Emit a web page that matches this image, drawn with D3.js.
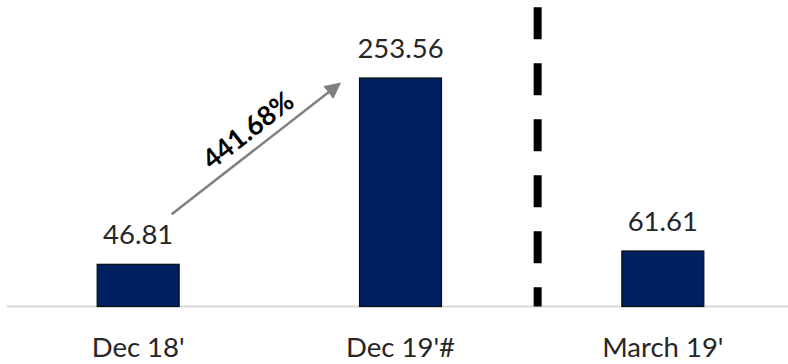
<!DOCTYPE html>
<html>
<head>
<meta charset="utf-8">
<script src="https://cdn.jsdelivr.net/npm/d3@7/dist/d3.min.js"></script>
<style>
  html, body { margin: 0; padding: 0; background: #ffffff; }
  svg { display: block; }
  text { font-family: Lato, "Open Sans", sans-serif; }
</style>
</head>
<body>
<svg id="chart" width="788" height="364"></svg>
<script>
// Period labels and the value for each period
const categories = ["Dec 18'", "Dec 19'#", "March 19'"];
const values = [46.81, 253.56, 61.61];

const width = 788, height = 364;
const baseY = 306.5;
const svg = d3.select("#chart");

const x = d3.scaleBand()
  .domain(categories)
  .range([7, 794])
  .paddingInner(0.6875)
  .paddingOuter(0.34375);

const y = d3.scaleLinear()
  .domain([0, 253.56])
  .range([baseY, 78]);

// Baseline
svg.append("line")
  .attr("x1", 7).attr("x2", 788)
  .attr("y1", baseY).attr("y2", baseY)
  .attr("stroke", "#d9d9d9")
  .attr("stroke-width", 2);

// Bars
svg.selectAll("rect.bar")
  .data(values)
  .join("rect")
  .attr("class", "bar")
  .attr("x", (d, i) => x(categories[i]))
  .attr("y", d => y(d))
  .attr("width", x.bandwidth())
  .attr("height", d => baseY - y(d))
  .attr("fill", "#002060")
  .attr("stroke", "#0d0d0d")
  .attr("stroke-width", 1.2);

// Value labels above bars
svg.selectAll("text.val")
  .data(values)
  .join("text")
  .attr("class", "val")
  .attr("x", (d, i) => x(categories[i]) + x.bandwidth() / 2)
  .attr("y", d => y(d) - 20)
  .attr("text-anchor", "middle")
  .attr("font-size", 27.5)
  .attr("fill", "#262626")
  .text(d => d.toFixed(2));

// Category labels
svg.selectAll("text.cat")
  .data(categories)
  .join("text")
  .attr("class", "cat")
  .attr("x", d => x(d) + x.bandwidth() / 2)
  .attr("y", 357)
  .attr("text-anchor", "middle")
  .attr("font-size", 27.5)
  .attr("fill", "#262626")
  .text(d => d);

// Dashed divider between the year-end periods and the quarter
const divX = (x(categories[1]) + x(categories[2]) + x.bandwidth()) / 2 + 6;
svg.append("line")
  .attr("x1", divX).attr("x2", divX)
  .attr("y1", 7.3).attr("y2", baseY)
  .attr("stroke", "#000")
  .attr("stroke-width", 8)
  .attr("stroke-dasharray", "32,24");

// Growth arrow from first to second period
const defs = svg.append("defs");
defs.append("marker")
  .attr("id", "arrowhead")
  .attr("viewBox", "0 0 10 10")
  .attr("refX", 8).attr("refY", 5)
  .attr("markerWidth", 6.5).attr("markerHeight", 6.5)
  .attr("markerUnits", "strokeWidth")
  .attr("orient", "auto")
  .append("path")
  .attr("d", "M0,0 L10,5 L0,10 z")
  .attr("fill", "#808080");

const x0 = x(categories[0]) + x.bandwidth() - 7.5;
const y0 = y(values[0]) - 50;
const x1 = x(categories[1]) - 19;
const y1 = y(values[1]) + 5;

svg.append("line")
  .attr("x1", x0).attr("y1", y0)
  .attr("x2", x1 - 2).attr("y2", y1 + 1.5)
  .attr("stroke", "#808080")
  .attr("stroke-width", 2.5)
  .attr("marker-end", "url(#arrowhead)");

const growth = (values[1] - values[0]) / values[0] * 100;
const ang = Math.atan2(y1 - y0, x1 - x0);
const ux = Math.cos(ang), uy = Math.sin(ang);
const nx = uy, ny = -ux; // normal pointing up-left
const mx = (x0 + x1) / 2 + ux * 5 + nx * 10;
const my = (y0 + y1) / 2 + uy * 5 + ny * 10;

svg.append("text")
  .attr("transform", `translate(${mx},${my}) rotate(${ang * 180 / Math.PI})`)
  .attr("text-anchor", "middle")
  .attr("font-size", 27)
  .attr("font-weight", "bold")
  .attr("fill", "#000")
  .text(growth.toFixed(2) + "%");
</script>
</body>
</html>
